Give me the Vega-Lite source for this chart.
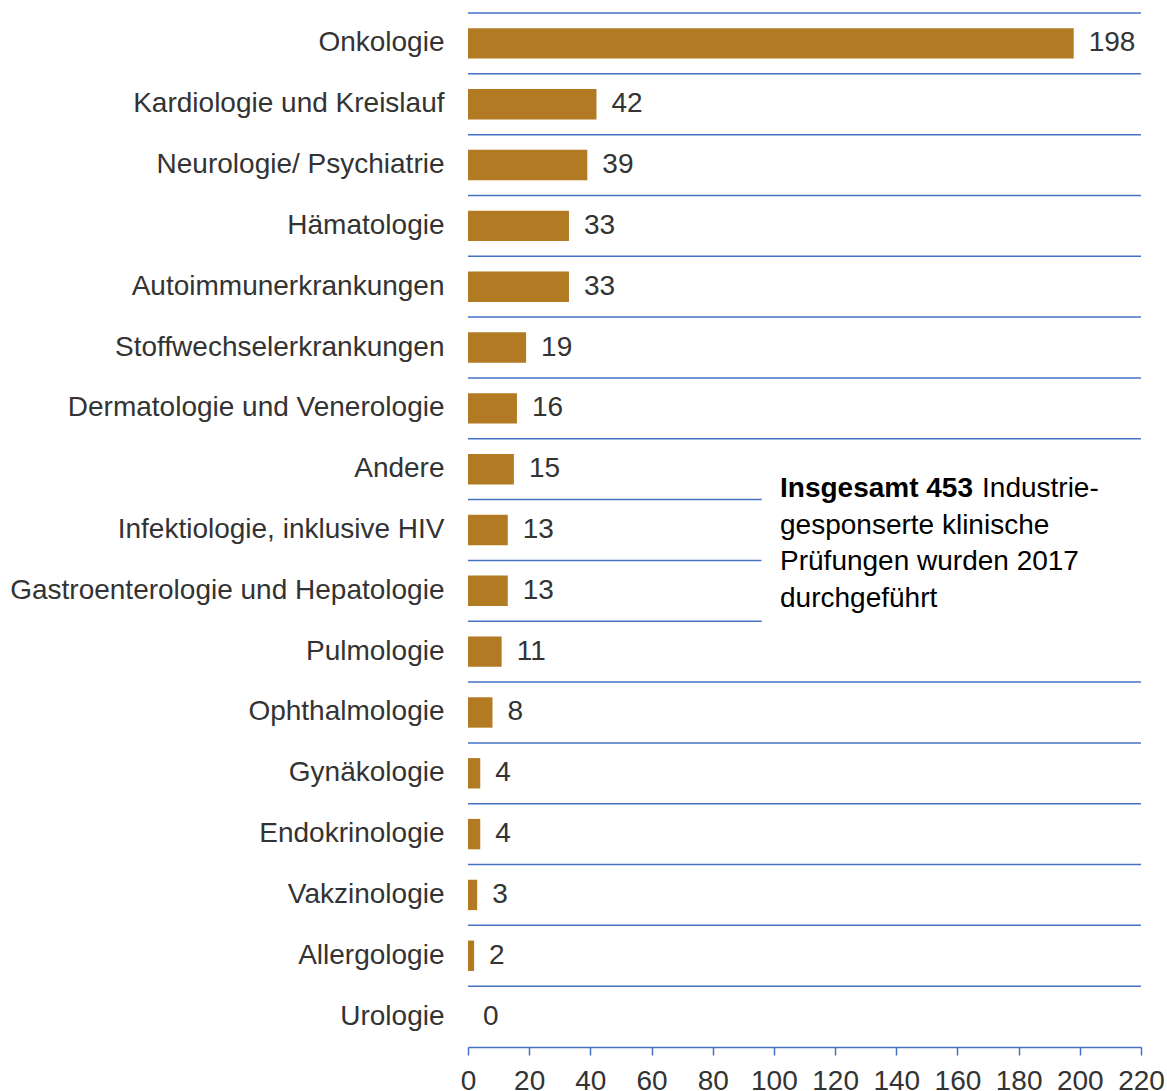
{
  "$schema": "https://vega.github.io/schema/vega-lite/v6.json",
  "autosize": {"type": "none"},
  "width": 673,
  "height": 1034,
  "padding": {"left": 468, "top": 13, "right": 26, "bottom": 44},
  "background": "white",
  "config": {"view": {"stroke": null}, "font": "Liberation Sans"},
  "data": {
    "values": [
      {"Fachgebiet": "Onkologie", "Anzahl": 198},
      {"Fachgebiet": "Kardiologie und Kreislauf", "Anzahl": 42},
      {"Fachgebiet": "Neurologie/ Psychiatrie\u00a0", "Anzahl": 39},
      {"Fachgebiet": "Hämatologie", "Anzahl": 33},
      {"Fachgebiet": "Autoimmunerkrankungen\u00a0", "Anzahl": 33},
      {"Fachgebiet": "Stoffwechselerkrankungen", "Anzahl": 19},
      {"Fachgebiet": "Dermatologie und Venerologie", "Anzahl": 16},
      {"Fachgebiet": "Andere", "Anzahl": 15},
      {"Fachgebiet": "Infektiologie, inklusive HIV", "Anzahl": 13},
      {"Fachgebiet": "Gastroenterologie und Hepatologie", "Anzahl": 13},
      {"Fachgebiet": "Pulmologie", "Anzahl": 11},
      {"Fachgebiet": "Ophthalmologie", "Anzahl": 8},
      {"Fachgebiet": "Gynäkologie", "Anzahl": 4},
      {"Fachgebiet": "Endokrinologie", "Anzahl": 4},
      {"Fachgebiet": "Vakzinologie", "Anzahl": 3},
      {"Fachgebiet": "Allergologie", "Anzahl": 2},
      {"Fachgebiet": "Urologie", "Anzahl": 0}
    ]
  },
  "encoding": {
    "y": {
      "field": "Fachgebiet", "type": "nominal", "sort": null,
      "scale": {"paddingInner": 0.5, "paddingOuter": 0.25},
      "axis": {"title": null, "domain": false, "ticks": false, "grid": false, "labelFontSize": 28, "labelColor": "#333333", "labelPadding": 24, "labelLimit": 0, "labelFont": "Liberation Sans"}
    },
    "x": {
      "field": "Anzahl", "type": "quantitative",
      "scale": {"domain": [0, 220], "nice": false},
      "axis": {"title": null, "values": [0, 20, 40, 60, 80, 100, 120, 140, 160, 180, 200, 220], "grid": false, "domainColor": "#4472C4", "domainWidth": 1.5, "tickColor": "#4472C4", "tickWidth": 1.5, "tickSize": 8, "labelFontSize": 28, "labelColor": "#333333", "labelPadding": 12, "labelFont": "Liberation Sans", "labelFlush": false, "labelOverlap": false}
    }
  },
  "layer": [
    {
      "mark": {"type": "rule", "color": "#4472C4", "strokeWidth": 1.5},
      "encoding": {
        "y": {"field": "Fachgebiet", "type": "nominal", "sort": null, "bandPosition": -0.5},
        "x": {"datum": 0},
        "x2": {"datum": 220}
      }
    },
    {
      "transform": [{"filter": "datum.Fachgebiet === 'Infektiologie, inklusive HIV' || datum.Fachgebiet === 'Gastroenterologie und Hepatologie'"}],
      "mark": {"type": "bar", "color": "white", "height": {"band": 2.5}},
      "encoding": {
        "x": {"datum": 96},
        "x2": {"datum": 221}
      }
    },
    {
      "mark": {"type": "bar", "color": "#B27A22"}
    },
    {
      "mark": {"type": "text", "align": "left", "baseline": "middle", "dx": 15, "fontSize": 28, "color": "#333333", "font": "Liberation Sans"},
      "encoding": {"text": {"field": "Anzahl", "type": "nominal"}}
    },
    {
      "transform": [{"filter": "datum.Fachgebiet === 'Infektiologie, inklusive HIV'"}],
      "mark": {"type": "text", "align": "left", "baseline": "alphabetic", "dy": -33, "fontSize": 28, "fontWeight": "bold", "color": "#000000", "font": "Liberation Sans", "text": "Insgesamt 453"},
      "encoding": {
        "x": {"datum": 102}
      }
    },
    {
      "transform": [{"filter": "datum.Fachgebiet === 'Infektiologie, inklusive HIV'"}],
      "mark": {"type": "text", "align": "left", "baseline": "alphabetic", "dy": -33, "dx": 202, "fontSize": 28, "color": "#000000", "font": "Liberation Sans", "text": "Industrie-"},
      "encoding": {
        "x": {"datum": 102}
      }
    },
    {
      "transform": [{"filter": "datum.Fachgebiet === 'Infektiologie, inklusive HIV'"}],
      "mark": {"type": "text", "align": "left", "baseline": "alphabetic", "dy": 3.5, "lineHeight": 36.5, "fontSize": 28, "color": "#000000", "font": "Liberation Sans", "text": ["gesponserte klinische", "Prüfungen wurden 2017", "durchgeführt"]},
      "encoding": {
        "x": {"datum": 102}
      }
    }
  ]
}
